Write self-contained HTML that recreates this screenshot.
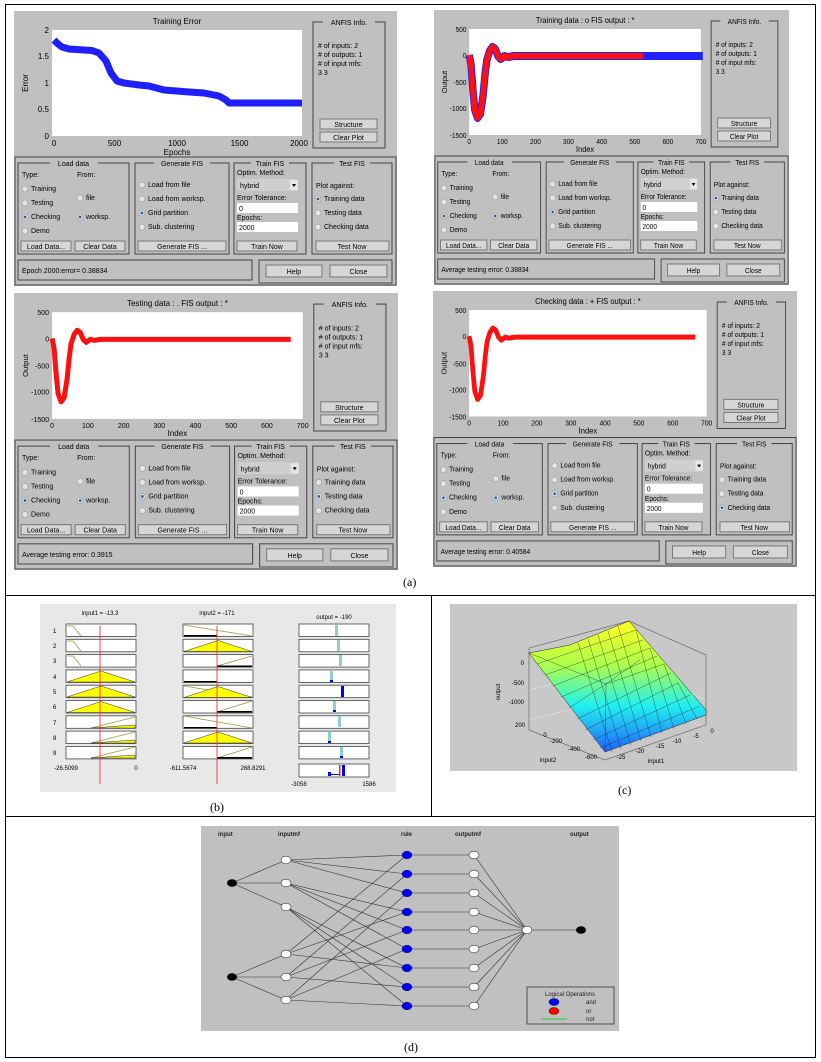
<!DOCTYPE html>
<html><head><meta charset="utf-8">
<style>
*{margin:0;padding:0;box-sizing:border-box}
html,body{width:821px;height:1062px;background:#fff;overflow:hidden;font-family:"Liberation Sans",sans-serif}
.a{position:absolute;display:block}
.cap{position:absolute;font-family:"Liberation Serif",serif;font-size:12px;color:#000}
svg text{font-family:"Liberation Sans",sans-serif}
</style></head><body>
<div class="a" style="left:5px;top:4px;width:811px;height:1054px;border:1px solid #000"></div>
<div class="a" style="left:5px;top:595px;width:811px;height:1px;background:#000"></div>
<div class="a" style="left:5px;top:816px;width:811px;height:1px;background:#000"></div>
<div class="a" style="left:431px;top:595px;width:1px;height:221px;background:#000"></div>
<div class="cap" style="left:403px;top:575px">(a)</div>
<div class="cap" style="left:210px;top:800px">(b)</div>
<div class="cap" style="left:618px;top:783px">(c)</div>
<div class="cap" style="left:404px;top:1040px">(d)</div>

<svg width="0" height="0" style="position:absolute">
<defs>
<g id="ctl" font-size="7" fill="#000">
<rect width="383" height="275" fill="#c0c0c0"/>
<rect x="299" y="11" width="72" height="126" fill="none" stroke="#444" stroke-width="1"/>
<rect x="309" y="7" width="52" height="8" fill="#c0c0c0"/>
<text x="335" y="14" text-anchor="middle">ANFIS Info.</text>
<text x="304" y="37"># of inputs: 2</text>
<text x="304" y="46"># of outputs: 1</text>
<text x="304" y="55"># of input mfs:</text>
<text x="304" y="64">3  3</text>
<rect x="306" y="108" width="57" height="10" fill="#d6d6d6" stroke="#777"/>
<text x="334.5" y="116" text-anchor="middle">Structure</text>
<rect x="306" y="121" width="57" height="10" fill="#d6d6d6" stroke="#777"/>
<text x="334.5" y="129" text-anchor="middle">Clear Plot</text>
<rect x="1" y="146" width="381" height="128" fill="none" stroke="#444"/>
<g fill="none" stroke="#444">
<rect x="4" y="152" width="111" height="91"/>
<rect x="121" y="152" width="94" height="91"/>
<rect x="220" y="152" width="72" height="91"/>
<rect x="298" y="152" width="80" height="91"/>
<rect x="4" y="249" width="234" height="20"/>
<rect x="245" y="249" width="133" height="23"/>
</g>
<rect x="36" y="149" width="48" height="7" fill="#c0c0c0"/>
<rect x="140" y="149" width="56" height="7" fill="#c0c0c0"/>
<rect x="237" y="149" width="38" height="7" fill="#c0c0c0"/>
<rect x="320" y="149" width="36" height="7" fill="#c0c0c0"/>
<text x="59.5" y="155" text-anchor="middle">Load data</text>
<text x="168" y="155" text-anchor="middle">Generate FIS</text>
<text x="256" y="155" text-anchor="middle">Train FIS</text>
<text x="338" y="155" text-anchor="middle">Test FIS</text>
<text x="8" y="166">Type:</text><text x="63" y="166">From:</text>
<g fill="#e4e4e4" stroke="#999" stroke-width=".6">
<circle cx="11" cy="178" r="3"/><circle cx="11" cy="192" r="3"/><circle cx="11" cy="206" r="3"/><circle cx="11" cy="220" r="3"/>
<circle cx="66" cy="187" r="3"/><circle cx="66" cy="206" r="3"/>
<circle cx="128" cy="174" r="3"/><circle cx="128" cy="188" r="3"/><circle cx="128" cy="202" r="3"/><circle cx="128" cy="216" r="3"/>
<circle cx="304" cy="188" r="3"/><circle cx="304" cy="202" r="3"/><circle cx="304" cy="216" r="3"/>
</g>
<g fill="#1a5fb4"><circle cx="11" cy="206" r="1.4"/><circle cx="66" cy="206" r="1.4"/><circle cx="128" cy="202" r="1.4"/></g>
<text x="17" y="180">Training</text><text x="17" y="194">Testing</text><text x="17" y="208">Checking</text><text x="17" y="222">Demo</text>
<text x="72" y="189">file</text><text x="72" y="208">worksp.</text>
<text x="134" y="176">Load from file</text><text x="134" y="190">Load from worksp.</text><text x="134" y="204">Grid partition</text><text x="134" y="218">Sub. clustering</text>
<text x="223" y="164">Optim. Method:</text>
<rect x="223" y="168" width="61" height="12" fill="#cfcfcf"/>
<text x="226" y="177">hybrid</text>
<rect x="276" y="169" width="8" height="10" fill="#e6e6e6"/>
<path d="M278 173 L282 173 L280 176Z" fill="#000"/>
<text x="223" y="189">Error Tolerance:</text>
<rect x="223" y="192" width="61" height="10" fill="#fff"/><text x="225" y="200">0</text>
<text x="223" y="209">Epochs:</text>
<rect x="223" y="211" width="61" height="10" fill="#fff"/><text x="225" y="219">2000</text>
<text x="302" y="177">Plot against:</text>
<text x="310" y="190">Training data</text><text x="310" y="204">Testing data</text><text x="310" y="218">Checking data</text>
<g fill="#d6d6d6" stroke="#777">
<rect x="7" y="230" width="50" height="10"/><rect x="61" y="230" width="50" height="10"/>
<rect x="124" y="230" width="88" height="10"/><rect x="223" y="230" width="60" height="10"/>
<rect x="302" y="230" width="73" height="10"/>
<rect x="252" y="254" width="56" height="12"/><rect x="316" y="254" width="57" height="12"/>
</g>
<text x="32" y="238" text-anchor="middle">Load Data...</text><text x="86" y="238" text-anchor="middle">Clear Data</text>
<text x="168" y="238" text-anchor="middle">Generate FIS ...</text><text x="253" y="238" text-anchor="middle">Train Now</text>
<text x="338" y="238" text-anchor="middle">Test Now</text>
<text x="280" y="263" text-anchor="middle">Help</text><text x="344.5" y="263" text-anchor="middle">Close</text>
</g>
<g id="outax" font-size="7">
<rect x="38" y="19" width="250" height="106" fill="#fff"/>
<g text-anchor="end"><text x="35" y="22">500</text><text x="35" y="48">0</text><text x="35" y="75">-500</text><text x="35" y="101">-1000</text><text x="35" y="128">-1500</text></g>
<g text-anchor="middle"><text x="38" y="134">0</text><text x="73.7" y="134">100</text><text x="109.4" y="134">200</text><text x="145" y="134">300</text><text x="181" y="134">400</text><text x="216.6" y="134">500</text><text x="252.3" y="134">600</text><text x="288" y="134">700</text>
<text x="163" y="142" font-size="8">Index</text></g>
<text transform="translate(14,72) rotate(-90)" text-anchor="middle" font-size="7.5">Output</text>
</g>
</defs>
</svg>

<svg class="a" style="left:14px;top:11px" width="383" height="275" viewBox="0 0 383 275" preserveAspectRatio="none">
<use href="#ctl"/>
<circle cx="304" cy="188" r="1.4" fill="#1a5fb4"/>
<text x="163" y="13" font-size="8" text-anchor="middle">Training Error</text>
<rect x="38" y="19" width="250" height="106" fill="#fff"/>
<g font-size="8" text-anchor="end"><text x="35" y="22">2</text><text x="35" y="48">1.5</text><text x="35" y="75">1</text><text x="35" y="101">0.5</text><text x="35" y="128">0</text></g>
<g font-size="8" text-anchor="middle"><text x="40" y="135">0</text><text x="100.5" y="135">500</text><text x="163" y="135">1000</text><text x="225.5" y="135">1500</text><text x="285" y="135">2000</text><text x="163" y="144">Epochs</text></g>
<text transform="translate(14,72) rotate(-90)" text-anchor="middle" font-size="8">Error</text>
<polyline fill="none" stroke="#1f1fff" stroke-width="7" stroke-linejoin="round" points="40,29 44,33 48,36 55,38 70,39 78,39.5 85,42 92,50 97,62 103,70 110,72 125,74 135,75 150,79 175,81 190,82 205,85 212,89 215,92 288,92"/>
<text x="8" y="262" font-size="7">Epoch 2000:error= 0.38834</text>
</svg>

<svg class="a" style="left:434px;top:10px" width="355" height="275" viewBox="0 0 383 275" preserveAspectRatio="none">
<use href="#ctl"/><use href="#outax"/>
<circle cx="304" cy="188" r="1.4" fill="#1a5fb4"/>
<text x="163" y="13" font-size="8" text-anchor="middle">Training data : o   FIS output : *</text>
<polyline fill="none" stroke="#2020ff" stroke-width="8" stroke-linejoin="round" points="38,45 40,55 42,80 44,100 47,108 50,104 53,85 55,65 57,50 60,41 63,37 66,39 69,46 72,49 76,46 80,47 86,46 92,46 100,46 250,46 290,46"/>
<polyline fill="none" stroke="#ff1010" stroke-width="6" stroke-linejoin="round" points="38,45 40,55 42,80 44,100 47,108 50,104 53,85 55,65 57,50 60,41 63,37 66,39 69,46 72,49 76,46 80,47 86,46 92,46 100,46 226,46"/>
<text x="8" y="262" font-size="7">Average testing error: 0.38834</text>
</svg>

<svg class="a" style="left:14px;top:293px" width="384" height="277" viewBox="0 0 383 275" preserveAspectRatio="none">
<use href="#ctl"/><use href="#outax"/>
<circle cx="304" cy="202" r="1.4" fill="#1a5fb4"/>
<text x="163" y="13" font-size="8" text-anchor="middle">Testing data : .   FIS output : *</text>
<polyline fill="none" stroke="#ff1010" stroke-width="5" stroke-linejoin="round" points="38,45 40,55 42,80 44,100 47,108 50,104 53,85 55,65 57,50 60,41 63,37 66,39 69,46 72,49 76,46 80,47 86,46 92,46 100,46 276,46"/>
<text x="8" y="262" font-size="7">Average testing error: 0.3915</text>
</svg>

<svg class="a" style="left:433px;top:291px" width="364" height="276" viewBox="0 0 383 275" preserveAspectRatio="none">
<use href="#ctl"/><use href="#outax"/>
<circle cx="304" cy="216" r="1.4" fill="#1a5fb4"/>
<text x="163" y="13" font-size="8" text-anchor="middle">Checking data : +   FIS output : *</text>
<polyline fill="none" stroke="#ff1010" stroke-width="5" stroke-linejoin="round" points="38,45 40,55 42,80 44,100 47,108 50,104 53,85 55,65 57,50 60,41 63,37 66,39 69,46 72,49 76,46 80,47 86,46 92,46 100,46 276,46"/>
<text x="8" y="262" font-size="7">Average testing error: 0.40584</text>
</svg>

<svg class="a" style="left:40px;top:604px" width="356" height="188" viewBox="40 604 356 188" font-size="6">
<rect x="40" y="604" width="356" height="188" fill="#e8e8e8"/>
<g text-anchor="middle"><text x="100" y="615">input1 = -13.3</text><text x="217" y="615">input2 = -171</text><text x="334" y="619">output = -190</text></g>
<g fill="#fff" stroke="#444" stroke-width=".8">
<rect x="66" y="624" width="70" height="12.5"/><rect x="183" y="624" width="70" height="12.5"/><rect x="299" y="624" width="70" height="12.5"/>
<rect x="66" y="639.3" width="70" height="12.5"/><rect x="183" y="639.3" width="70" height="12.5"/><rect x="299" y="639.3" width="70" height="12.5"/>
<rect x="66" y="654.6" width="70" height="12.5"/><rect x="183" y="654.6" width="70" height="12.5"/><rect x="299" y="654.6" width="70" height="12.5"/>
<rect x="66" y="669.9" width="70" height="12.5"/><rect x="183" y="669.9" width="70" height="12.5"/><rect x="299" y="669.9" width="70" height="12.5"/>
<rect x="66" y="685.2" width="70" height="12.5"/><rect x="183" y="685.2" width="70" height="12.5"/><rect x="299" y="685.2" width="70" height="12.5"/>
<rect x="66" y="700.5" width="70" height="12.5"/><rect x="183" y="700.5" width="70" height="12.5"/><rect x="299" y="700.5" width="70" height="12.5"/>
<rect x="66" y="715.8" width="70" height="12.5"/><rect x="183" y="715.8" width="70" height="12.5"/><rect x="299" y="715.8" width="70" height="12.5"/>
<rect x="66" y="731.1" width="70" height="12.5"/><rect x="183" y="731.1" width="70" height="12.5"/><rect x="299" y="731.1" width="70" height="12.5"/>
<rect x="66" y="746.4" width="70" height="12.5"/><rect x="183" y="746.4" width="70" height="12.5"/><rect x="299" y="746.4" width="70" height="12.5"/>
<rect x="299" y="764" width="70" height="13"/>
</g>
<g fill="#000"><text x="53" y="633">1</text><text x="53" y="648">2</text><text x="53" y="663">3</text><text x="53" y="679">4</text><text x="53" y="694">5</text><text x="53" y="709">6</text><text x="53" y="725">7</text><text x="53" y="740">8</text><text x="53" y="755">9</text></g>
<g stroke="#999940" stroke-width=".8" fill="none">
<path d="M67 626 L73 626 L81 636"/><path d="M67 641 L73 641 L81 651"/><path d="M67 656 L73 656 L81 666"/>
<path d="M91 728 L135 717"/><path d="M91 743 L135 732"/><path d="M91 758 L135 747"/>
<path d="M184 625 L252 636"/><path d="M184 686 L252 697"/><path d="M184 716 L252 728"/>
<path d="M217 666 L252 656"/><path d="M217 712 L252 701"/><path d="M217 758 L252 747"/>
</g>
<g fill="#ffff00" stroke="#333" stroke-width=".5">
<path d="M67 682 L101 671 L135 682Z"/><path d="M67 697 L101 686 L135 697Z"/><path d="M67 712.5 L101 701.5 L135 712.5Z"/>
<path d="M91 728 L135 725 L135 728Z"/><path d="M91 743 L135 740 L135 743Z"/><path d="M91 758 L135 755 L135 758Z"/>
<path d="M184 651.5 L218 640.5 L252 651.5Z"/><path d="M184 697.5 L218 686.5 L252 697.5Z"/><path d="M184 743 L218 732 L252 743Z"/>
</g>
<g fill="#000"><rect x="184" y="635" width="33" height="1.5"/><rect x="217" y="665.5" width="35" height="1.5"/><rect x="184" y="681" width="33" height="1.5"/><rect x="217" y="711" width="35" height="1.5"/><rect x="184" y="727" width="33" height="1.5"/><rect x="217" y="757" width="35" height="1.5"/></g>
<g fill="#8ecfd0">
<rect x="335" y="625" width="3" height="11"/><rect x="337" y="640" width="3" height="11"/><rect x="339" y="655" width="3" height="11"/>
<rect x="330" y="671" width="3" height="11"/><rect x="333" y="701" width="3" height="11"/><rect x="338" y="716" width="3" height="11"/>
<rect x="328" y="732" width="3" height="11"/><rect x="340" y="747" width="3" height="11"/>
</g>
<g fill="#0000ff"><rect x="341" y="686" width="3" height="11"/><rect x="330" y="680" width="3" height="2"/><rect x="333" y="710" width="3" height="2"/><rect x="328" y="741" width="3" height="2"/><rect x="340" y="756" width="3" height="2"/>
<rect x="342" y="765" width="3" height="11"/><rect x="328" y="772" width="3" height="4"/><rect x="331" y="774" width="8" height="1"/></g>
<rect x="339" y="765" width="1.5" height="11" fill="#ff2020"/>
<g stroke="#ff3030" stroke-width=".9"><line x1="100" y1="626" x2="100" y2="784"/><line x1="217" y1="626" x2="217" y2="784"/></g>
<g text-anchor="middle"><text x="66" y="770">-26.5099</text><text x="136" y="770">0</text><text x="183" y="770">-611.5674</text><text x="253" y="770">268.8291</text><text x="299" y="786">-3058</text><text x="369" y="786">1586</text></g>
</svg>

<svg class="a" style="left:450px;top:604px" width="347" height="167" viewBox="450 604 347 167" font-size="6">
<defs><linearGradient id="sg" x1="0" y1="0" x2="0" y2="1">
<stop offset="0" stop-color="#ffff20"/><stop offset=".35" stop-color="#a8ff50"/><stop offset=".65" stop-color="#20f0f0"/><stop offset="1" stop-color="#2060ff"/></linearGradient></defs>
<rect x="450" y="604" width="347" height="167" fill="#c8c8c8"/>
<g stroke="#fff" stroke-width=".6" fill="none" stroke-dasharray="1.5 1.5">
<path d="M629 621 L629 700"/><path d="M529 690 L629 665 L706 700"/><path d="M529 720 L629 695 L706 728"/>
</g>
<g stroke="#555" stroke-width=".6" fill="none"><path d="M529 648 L529 730 L605 760 L706 725"/><path d="M529 648 L629 621 L706 655 L706 725"/></g>
<path d="M529 653 L570 645 L629 621 L706 710 L706 715 L605 752 Z" fill="url(#sg)" stroke="#222" stroke-width=".5"/>
<g stroke="#222" stroke-width=".35" fill="none">
<path d="M537 664 L636 630"/><path d="M545 675 L643 640"/><path d="M553 686 L650 648"/><path d="M561 697 L657 656"/><path d="M569 708 L606 684 L664 664"/><path d="M577 719 L671 673"/><path d="M585 730 L678 683"/><path d="M593 740 L690 695"/><path d="M600 748 L700 706"/>
<path d="M578 643 L612 752"/><path d="M588 639 L621 749"/><path d="M598 635 L631 745"/><path d="M608 631 L641 741"/><path d="M618 626 L651 737"/><path d="M636 630 L662 733"/><path d="M650 648 L674 729"/><path d="M664 664 L686 724"/><path d="M678 683 L697 719"/>
<path d="M606 684 L605 752"/><path d="M529 653 L606 684 L640 660"/>
</g>
<g text-anchor="end"><text x="524" y="665">0</text><text x="524" y="685">-500</text><text x="524" y="704">-1000</text><text x="525" y="727">200</text></g>
<text transform="translate(500,692) rotate(-90)" text-anchor="middle">output</text>
<g text-anchor="middle"><text x="545" y="737">0</text><text x="556" y="743">-200</text><text x="574" y="751">-400</text><text x="591" y="759">-600</text>
<text x="621" y="759">-25</text><text x="640" y="753">-20</text><text x="660" y="748">-15</text><text x="677" y="743">-10</text><text x="696" y="738">-5</text><text x="712" y="733">0</text>
<text x="548" y="762">input2</text><text x="656" y="763">input1</text></g>
</svg>

<svg class="a" style="left:201px;top:826px" width="418" height="205" viewBox="201 826 418 205" font-size="6">
<rect x="201" y="826" width="418" height="205" fill="#c0c0c0"/>
<g font-weight="bold" fill="#222"><text x="218" y="836">input</text><text x="278" y="836">inputmf</text><text x="401" y="836">rule</text><text x="455" y="836">outputmf</text><text x="570" y="836">output</text></g>
<g stroke="#333" stroke-width=".6">
<line x1="232" y1="883" x2="286" y2="860"/><line x1="232" y1="883" x2="286" y2="883"/><line x1="232" y1="883" x2="286" y2="907"/>
<line x1="232" y1="977" x2="286" y2="954"/><line x1="232" y1="977" x2="286" y2="977"/><line x1="232" y1="977" x2="286" y2="1000"/>
<line x1="286" y1="860" x2="407" y2="855"/><line x1="286" y1="860" x2="407" y2="874"/><line x1="286" y1="860" x2="407" y2="893"/>
<line x1="286" y1="883" x2="407" y2="912"/><line x1="286" y1="883" x2="407" y2="930"/><line x1="286" y1="883" x2="407" y2="949"/>
<line x1="286" y1="907" x2="407" y2="968"/><line x1="286" y1="907" x2="407" y2="987"/><line x1="286" y1="907" x2="407" y2="1006"/>
<line x1="286" y1="954" x2="407" y2="855"/><line x1="286" y1="954" x2="407" y2="912"/><line x1="286" y1="954" x2="407" y2="968"/>
<line x1="286" y1="977" x2="407" y2="874"/><line x1="286" y1="977" x2="407" y2="930"/><line x1="286" y1="977" x2="407" y2="987"/>
<line x1="286" y1="1000" x2="407" y2="893"/><line x1="286" y1="1000" x2="407" y2="949"/><line x1="286" y1="1000" x2="407" y2="1006"/>
<line x1="407" y1="855" x2="474" y2="855"/><line x1="407" y1="874" x2="474" y2="874"/><line x1="407" y1="893" x2="474" y2="893"/><line x1="407" y1="912" x2="474" y2="912"/><line x1="407" y1="930" x2="474" y2="930"/><line x1="407" y1="949" x2="474" y2="949"/><line x1="407" y1="968" x2="474" y2="968"/><line x1="407" y1="987" x2="474" y2="987"/><line x1="407" y1="1006" x2="474" y2="1006"/>
<line x1="474" y1="855" x2="527" y2="930"/><line x1="474" y1="874" x2="527" y2="930"/><line x1="474" y1="893" x2="527" y2="930"/><line x1="474" y1="912" x2="527" y2="930"/><line x1="474" y1="930" x2="527" y2="930"/><line x1="474" y1="949" x2="527" y2="930"/><line x1="474" y1="968" x2="527" y2="930"/><line x1="474" y1="987" x2="527" y2="930"/><line x1="474" y1="1006" x2="527" y2="930"/>
<line x1="527" y1="930" x2="581" y2="930"/>
</g>
<g fill="#000"><ellipse cx="232" cy="883" rx="5" ry="3.8"/><ellipse cx="232" cy="977" rx="5" ry="3.8"/><ellipse cx="581" cy="930" rx="5" ry="3.8"/></g>
<g fill="#fff" stroke="#333" stroke-width=".6">
<ellipse cx="286" cy="860" rx="5" ry="3.8"/><ellipse cx="286" cy="883" rx="5" ry="3.8"/><ellipse cx="286" cy="907" rx="5" ry="3.8"/><ellipse cx="286" cy="954" rx="5" ry="3.8"/><ellipse cx="286" cy="977" rx="5" ry="3.8"/><ellipse cx="286" cy="1000" rx="5" ry="3.8"/>
<ellipse cx="474" cy="855" rx="5" ry="3.8"/><ellipse cx="474" cy="874" rx="5" ry="3.8"/><ellipse cx="474" cy="893" rx="5" ry="3.8"/><ellipse cx="474" cy="912" rx="5" ry="3.8"/><ellipse cx="474" cy="930" rx="5" ry="3.8"/><ellipse cx="474" cy="949" rx="5" ry="3.8"/><ellipse cx="474" cy="968" rx="5" ry="3.8"/><ellipse cx="474" cy="987" rx="5" ry="3.8"/><ellipse cx="474" cy="1006" rx="5" ry="3.8"/>
<ellipse cx="527" cy="930" rx="5" ry="3.8"/>
</g>
<g fill="#0000ff" stroke="#000" stroke-width=".4">
<ellipse cx="407" cy="855" rx="5" ry="3.8"/><ellipse cx="407" cy="874" rx="5" ry="3.8"/><ellipse cx="407" cy="893" rx="5" ry="3.8"/><ellipse cx="407" cy="912" rx="5" ry="3.8"/><ellipse cx="407" cy="930" rx="5" ry="3.8"/><ellipse cx="407" cy="949" rx="5" ry="3.8"/><ellipse cx="407" cy="968" rx="5" ry="3.8"/><ellipse cx="407" cy="987" rx="5" ry="3.8"/><ellipse cx="407" cy="1006" rx="5" ry="3.8"/>
</g>
<rect x="527" y="987" width="87" height="37" fill="none" stroke="#333" stroke-width=".8"/>
<text x="570" y="996" text-anchor="middle" fill="#222">Logical Operations</text>
<ellipse cx="554" cy="1002" rx="5" ry="3.5" fill="#0000ff" stroke="#000" stroke-width=".4"/>
<ellipse cx="554" cy="1011" rx="5" ry="3.5" fill="#ff0000" stroke="#000" stroke-width=".4"/>
<line x1="541" y1="1019" x2="567" y2="1019" stroke="#00cc00" stroke-width=".8"/>
<g fill="#222"><text x="586" y="1004">and</text><text x="586" y="1013">or</text><text x="586" y="1021">not</text></g>
</svg>
</body></html>
